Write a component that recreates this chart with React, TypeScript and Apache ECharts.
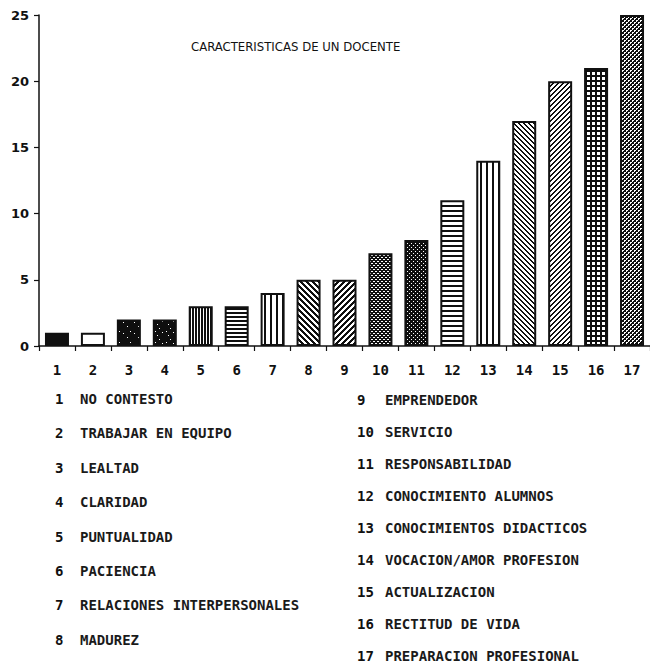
import React, { useEffect, useRef } from "react";
import * as echarts from "echarts";

const categories = ["1","2","3","4","5","6","7","8","9","10","11","12","13","14","15","16","17"];
const values = [1, 1, 2, 2, 3, 3, 4, 5, 5, 7, 8, 11, 14, 17, 20, 21, 25];
const yTicks = { min: 0, max: 25, interval: 5 };
const chartTitle = "CARACTERISTICAS DE UN DOCENTE";
const legendLeft = [
  "NO CONTESTO",
  "TRABAJAR EN EQUIPO",
  "LEALTAD",
  "CLARIDAD",
  "PUNTUALIDAD",
  "PACIENCIA",
  "RELACIONES INTERPERSONALES",
  "MADUREZ",
];
const legendRight = [
  "EMPRENDEDOR",
  "SERVICIO",
  "RESPONSABILIDAD",
  "CONOCIMIENTO ALUMNOS",
  "CONOCIMIENTOS DIDACTICOS",
  "VOCACION/AMOR PROFESION",
  "ACTUALIZACION",
  "RECTITUD DE VIDA",
  "PREPARACION PROFESIONAL",
];

type Fn = (x: number, y: number) => boolean;

function tile(w: number, h: number, fn: Fn): HTMLCanvasElement {
  const c = document.createElement("canvas");
  c.width = w;
  c.height = h;
  const ctx = c.getContext("2d")!;
  const img = ctx.createImageData(w, h);
  for (let y = 0; y < h; y++) {
    for (let x = 0; x < w; x++) {
      const k = (y * w + x) * 4;
      const v = fn(x, y) ? 15 : 255;
      img.data[k] = v;
      img.data[k + 1] = v;
      img.data[k + 2] = v;
      img.data[k + 3] = 255;
    }
  }
  ctx.putImageData(img, 0, 0);
  return c;
}

function pat(w: number, h: number, fn: Fn) {
  return { image: tile(w, h, fn), repeat: "repeat" } as any;
}

function buildPatterns(): any[] {
  const whiteSet = (pts: number[][]): Fn => (x, y) => !pts.some((p) => p[0] === x && p[1] === y);
  return [
    "#111111",
    "#ffffff",
    pat(11, 11, whiteSet([[2, 3], [6, 7], [9, 1]])),
    pat(11, 11, whiteSet([[3, 5], [8, 2], [5, 9], [1, 1]])),
    pat(3, 1, (x) => x < 2),
    pat(1, 4, (_x, y) => y < 2),
    pat(6, 1, (x) => x < 2),
    pat(6, 6, (x, y) => ((x - y + 60) % 6) < 3),
    pat(6, 6, (x, y) => ((x + y) % 6) < 3),
    pat(4, 4, whiteSet([[1, 1], [3, 3], [2, 1], [0, 3]])),
    pat(4, 4, whiteSet([[1, 1], [3, 3]])),
    pat(1, 5, (_x, y) => y < 2),
    pat(6, 1, (x) => x < 2),
    pat(5, 5, (x, y) => ((x - y + 50) % 5) < 2),
    pat(5, 5, (x, y) => ((x + y) % 5) < 2),
    pat(5, 5, (x, y) => x < 2 || y < 2),
    pat(4, 4, whiteSet([[0, 0], [1, 0], [0, 1], [2, 2], [3, 2], [2, 3]])),
  ];
}

export default function App() {
  const ref = useRef<HTMLDivElement>(null);
  useEffect(() => {
    if (!ref.current) return;
    const chart = echarts.init(ref.current, null, { renderer: "svg" });
    const patterns = buildPatterns();
    const monoFont = "'DejaVu Sans Mono', monospace";
    const graphics: any[] = [];
    legendLeft.forEach((t, i) => {
      const y = 400 + i * 34.4;
      graphics.push({
        type: "text", left: 55, top: y - 8,
        style: { text: String(i + 1), fontFamily: monoFont, fontSize: 14, fontWeight: "bold", fill: "#111" },
      });
      graphics.push({
        type: "text", left: 80, top: y - 8,
        style: { text: t, fontFamily: monoFont, fontSize: 14, fontWeight: "bold", fill: "#1a1a1a" },
      });
    });
    legendRight.forEach((t, i) => {
      const y = 401 + i * 32;
      graphics.push({
        type: "text", left: 357, top: y - 8,
        style: { text: String(i + 9), fontFamily: monoFont, fontSize: 14, fontWeight: "bold", fill: "#111" },
      });
      graphics.push({
        type: "text", left: 385, top: y - 8,
        style: { text: t, fontFamily: monoFont, fontSize: 14, fontWeight: "bold", fill: "#1a1a1a" },
      });
    });
    chart.setOption({
      animation: false,
      backgroundColor: "#ffffff",
      title: {
        text: chartTitle,
        left: 186,
        top: 35,
        textStyle: {
          fontFamily: "'Liberation Sans Narrow', 'DejaVu Sans Condensed', sans-serif",
          fontSize: 13,
          fontWeight: "normal",
          color: "#111",
        },
      },
      grid: { left: 39, top: 15, width: 612, height: 331, containLabel: false },
      xAxis: {
        type: "category",
        data: categories,
        axisLine: { lineStyle: { color: "#111", width: 1.5 } },
        axisTick: { show: true, interval: 0, alignWithLabel: false, length: 5, lineStyle: { color: "#111", width: 1.2 } },
        axisLabel: { interval: 0, margin: 17, color: "#111", fontFamily: monoFont, fontSize: 14, fontWeight: "bold" },
      },
      yAxis: {
        type: "value",
        min: yTicks.min,
        max: yTicks.max,
        interval: yTicks.interval,
        axisLine: { show: true, lineStyle: { color: "#111", width: 1.5 } },
        axisTick: { show: true, length: 5, lineStyle: { color: "#111", width: 1.2 } },
        splitLine: { show: false },
        axisLabel: { margin: 10, color: "#111", fontFamily: "'DejaVu Sans', sans-serif", fontSize: 13, fontWeight: "bold" },
      },
      series: [
        {
          type: "bar",
          barWidth: 24,
          data: values.map((v, i) => ({
            value: v,
            itemStyle: { color: patterns[i], borderColor: "#111", borderWidth: 2 },
          })),
        },
      ],
      graphic: graphics,
    });
    return () => chart.dispose();
  }, []);
  return (
    <div
      ref={ref}
      style={{ position: "fixed", left: 0, top: 0, width: 650, height: 665, background: "#fff" }}
    />
  );
}
